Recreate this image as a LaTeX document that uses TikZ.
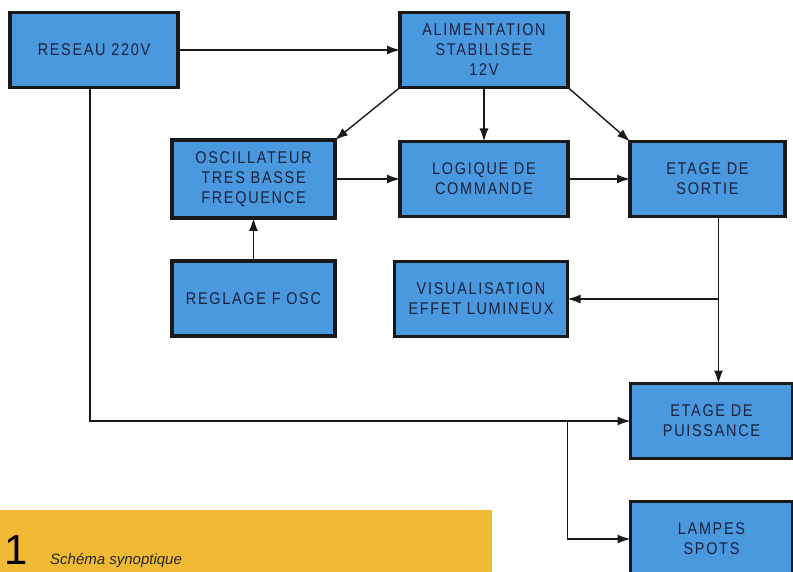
\documentclass[tikz,border=0pt]{standalone}
\usepackage{fontspec}
\usetikzlibrary{arrows.meta, positioning, calc}
\newfontfamily\boxfont[LetterSpace=10, FakeStretch=0.85]{Liberation Sans}
\newfontfamily\capfont{Liberation Sans}
\definecolor{boxblue}{RGB}{74,152,222}
\definecolor{boxink}{RGB}{28,34,62}
\definecolor{capyellow}{RGB}{240,186,52}

\begin{document}
\begin{tikzpicture}[
        x=1pt, y=1pt,
        node distance=54pt and 62pt,
        % Define styles for the different blocks
        block/.style={rectangle, draw=black!90, line width=3.5pt, fill=boxblue, text=boxink, align=center, inner sep=2pt, outer sep=0pt, minimum width=165pt, minimum height=75pt, font=\boxfont\fontsize{17}{20}\selectfont},
        line/.style={draw, -{Latex[length=13pt, width=9pt]}, line width=1.4pt, color=black!90}
    ]

    % Frame of the page
    \useasboundingbox (0,0) rectangle (793,-572);

    % Caption band
    \fill [capyellow] (0,-510) rectangle (492,-572);
    \node [anchor=base west, inner sep=0pt, font=\capfont\fontsize{42}{42}\selectfont] (capnum) at (4,-564) {1};
    \node [anchor=base west, inner sep=0pt, font=\capfont\itshape\fontsize{15}{15}\selectfont, text=black!85] (captext) at (50,-564) {Schéma synoptique};

    % --- Nodes ---
    % Mains and supply
    \node [block, minimum width=168pt] (reseau) at (94,-50) {RESEAU 220V};
    \node [block, minimum width=168pt, right=222pt of reseau] (alim) {ALIMENTATION\\STABILISEE\\12V};

    % Middle row
    \node [block, minimum width=168pt, below=54pt of alim] (logique) {LOGIQUE DE\\COMMANDE};
    \node [block, minimum width=155pt, right=62pt of logique] (sortie) {ETAGE DE\\SORTIE};
    \node [block, minimum width=163pt, minimum height=78pt, left=65pt of logique] (osc) {OSCILLATEUR\\TRES BASSE\\FREQUENCE};

    % Lower rows
    \node [block, minimum width=163pt, below=43pt of osc] (reglage) {REGLAGE F OSC};
    \node [block, minimum width=173pt, below=45pt of logique, xshift=-3pt] (visu) {VISUALISATION\\EFFET LUMINEUX};
    \node [block, minimum width=162pt, below=167pt of sortie, xshift=4pt] (puissance) {ETAGE DE\\PUISSANCE};
    \node [block, minimum width=162pt, below=43pt of puissance] (lampes) {LAMPES\\SPOTS};

    % Junction points
    \coordinate (tap) at ([xshift=11pt]sortie.south);
    \coordinate (split) at (visu.east |- puissance.west);

    % --- Edges (Arrows) ---
    \path [line] (reseau) -- (alim);
    \path [line] ([xshift=-4pt]reseau.south) |- (puissance.west);
    \path [line] (split) |- (lampes.west);

    % Supply to the three blocks
    \path [line] (alim.south west) -- (osc.north east);
    \path [line] (alim) -- (logique);
    \path [line] (alim.south east) -- (sortie.north west);

    % Signal chain
    \path [line] (reglage) -- (osc);
    \path [line] (osc) -- (logique);
    \path [line] (logique) -- (sortie);

    % Output stage to power and display
    \path [line] (tap) -- (tap |- puissance.north);
    \path [line] (tap |- visu.east) -- (visu.east);

\end{tikzpicture}
\end{document}
